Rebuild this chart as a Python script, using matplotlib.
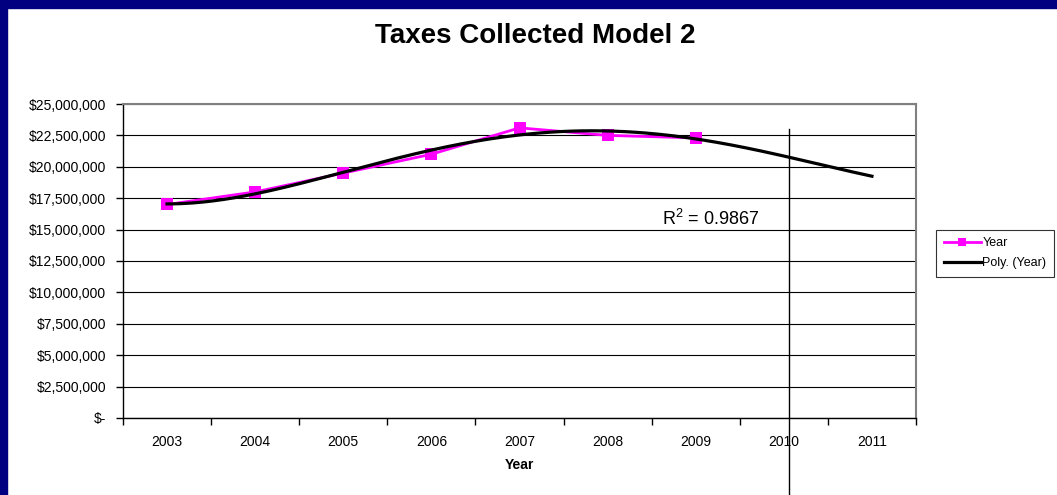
import numpy as np
import matplotlib
matplotlib.use("Agg")
import matplotlib.pyplot as plt
from matplotlib.patches import Rectangle
from matplotlib.transforms import blended_transform_factory

plt.rcParams['font.family'] = ['Liberation Sans', 'DejaVu Sans']
plt.rcParams['mathtext.default'] = 'regular'

# data
years = ["2003", "2004", "2005", "2006", "2007", "2008", "2009", "2010", "2011"]
taxes = [17.0e6, 18.0e6, 19.5e6, 21.0e6, 23.1e6, 22.5e6, 22.3e6]
y_ticks = [0, 2.5e6, 5e6, 7.5e6, 10e6, 12.5e6, 15e6, 17.5e6, 20e6, 22.5e6, 25e6]
y_labels = ["$-", "$2,500,000", "$5,000,000", "$7,500,000", "$10,000,000",
            "$12,500,000", "$15,000,000", "$17,500,000", "$20,000,000",
            "$22,500,000", "$25,000,000"]
r2_label = "R$^2$ = 0.9867"
poly_order = 4
forecast = 2  # periods forward

NAVY = "#000080"
MAGENTA = "#ff00ff"

fig = plt.figure(figsize=(10.57, 4.95), dpi=100)
fig.patch.set_facecolor("white")
# navy slide frame
fig.patches.append(Rectangle((0, 0), 7 / 1057, 1, transform=fig.transFigure,
                             color=NAVY, zorder=0))
fig.patches.append(Rectangle((0, 1 - 8 / 495), 1, 8 / 495, transform=fig.transFigure,
                             color=NAVY, zorder=0))

ax = fig.add_axes([123 / 1057, 1 - 418 / 495, 793 / 1057, 314 / 495])

idx = np.arange(len(taxes))
ax.plot(idx, taxes, color=MAGENTA, lw=2, marker="s", markersize=9,
        markeredgewidth=0, label="Year", zorder=3)

# polynomial trendline, Excel style (x = 1..n)
coef = np.polyfit(idx + 1, taxes, poly_order)
xs = np.linspace(1, len(taxes) + forecast, 200)
ax.plot(xs - 1, np.polyval(coef, xs), color="black", lw=2.3,
        label="Poly. (Year)", zorder=4)

ax.set_ylim(0, 25e6)
ax.set_xlim(-0.5, len(years) - 0.5)
ax.set_yticks(y_ticks)
ax.set_yticklabels(y_labels, fontsize=10)
ax.yaxis.grid(True, color="black", lw=0.8)
ax.set_axisbelow(True)

ax.set_xticks(np.arange(len(years) + 1) - 0.5)
ax.set_xticklabels([])
ax.set_xticks(np.arange(len(years)), minor=True)
ax.set_xticklabels(years, minor=True, fontsize=10)
ax.tick_params(axis="x", which="major", length=5, direction="out", width=1)
ax.tick_params(axis="x", which="minor", length=0, pad=12)
ax.tick_params(axis="y", length=5, direction="out", width=1, pad=7)

for s in ["top", "right"]:
    ax.spines[s].set_color("#808080")
    ax.spines[s].set_linewidth(1.5)
for s in ["left", "bottom"]:
    ax.spines[s].set_color("black")
    ax.spines[s].set_linewidth(1)

ax.set_xlabel("Year", fontsize=10, fontweight="bold", labelpad=7)
fig.text(535 / 1057, 1 - 36 / 495, "Taxes Collected Model 2", fontsize=20,
         fontweight="bold", ha="center", va="center")

ax.text(0.68, 0.635, r2_label, transform=ax.transAxes, fontsize=13,
        ha="left", va="center")

# hand drawn vertical line crossing 2010
trans = blended_transform_factory(ax.transData, ax.transAxes)
ax.plot([7.06, 7.06], [0.92, -0.25], color="black", lw=1, transform=trans,
        clip_on=False, zorder=5)

leg = fig.legend(loc="upper left", bbox_to_anchor=(936 / 1057, 1 - 230 / 495),
                 fontsize=9, frameon=True, fancybox=False, borderpad=0.6,
                 handlelength=3.0, handletextpad=0.1, labelspacing=0.6,
                 borderaxespad=0, markerscale=0.65)
leg.get_frame().set_edgecolor("black")
leg.get_frame().set_linewidth(0.8)

fig.savefig("out.png", dpi=100)
